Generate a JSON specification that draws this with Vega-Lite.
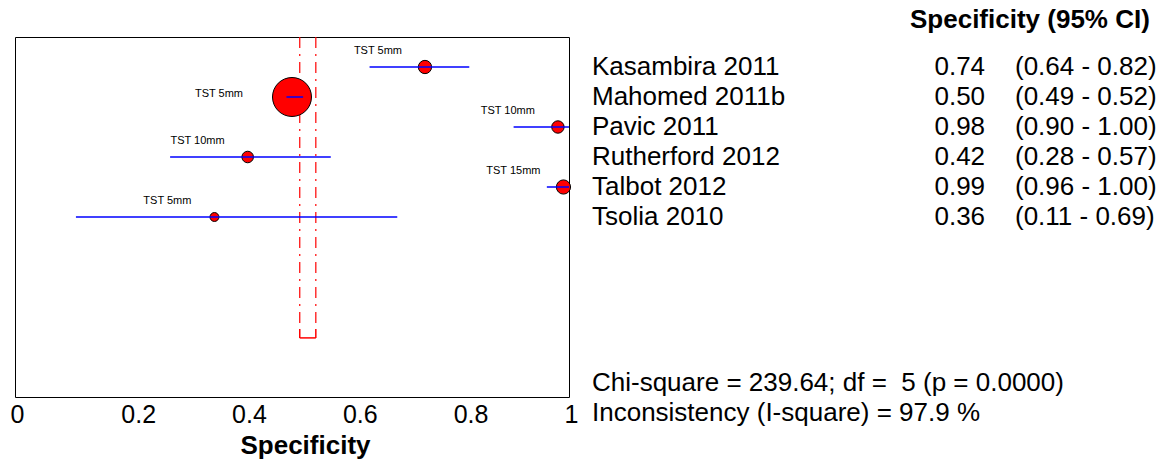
{
  "$schema": "https://vega.github.io/schema/vega-lite/v6.json",
  "width": 554,
  "height": 360,
  "autosize": {"type": "none"},
  "padding": {"left": 15, "top": 37, "right": 594, "bottom": 67},
  "background": "white",
  "config": {
    "view": {"stroke": "black", "strokeWidth": 1},
    "font": "Liberation Sans",
    "text": {"font": "Liberation Sans", "color": "black"}
  },
  "datasets": {
    "studies": [
      {"study": "Kasambira 2011", "spec": 0.74, "lo": 0.64, "hi": 0.82, "row": 1, "label": "TST 5mm", "weight": 7.8},
      {"study": "Mahomed 2011b", "spec": 0.50, "lo": 0.49, "hi": 0.52, "row": 2, "label": "TST 5mm", "weight": 67.1},
      {"study": "Pavic 2011", "spec": 0.98, "lo": 0.90, "hi": 1.00, "row": 3, "label": "TST 10mm", "weight": 6.8},
      {"study": "Rutherford 2012", "spec": 0.42, "lo": 0.28, "hi": 0.57, "row": 4, "label": "TST 10mm", "weight": 5.9},
      {"study": "Talbot 2012", "spec": 0.99, "lo": 0.96, "hi": 1.00, "row": 5, "label": "TST 15mm", "weight": 8.9},
      {"study": "Tsolia 2010", "spec": 0.36, "lo": 0.11, "hi": 0.69, "row": 6, "label": "TST 5mm", "weight": 3.5}
    ],
    "pooled": [
      {"lo": 0.514, "hi": 0.543, "top": 0, "bracket": 9.73, "bottom": 10.03}
    ],
    "stats": [
      {"text": "Chi-square = 239.64; df = \u00a05 (p = 0.0000)", "pos": 11.53},
      {"text": "Inconsistency (I-square) = 97.9 %", "pos": 12.53}
    ]
  },
  "encoding": {
    "y": {"type": "quantitative", "scale": {"domain": [0, 12], "reverse": true}, "axis": null}
  },
  "layer": [
    {
      "data": {"name": "pooled"},
      "mark": {"type": "rule", "color": "#ff0000", "strokeWidth": 1.2, "strokeDash": [11, 6, 2, 6]},
      "encoding": {
        "x": {"field": "lo", "type": "quantitative", "scale": {"domain": [0, 1]},
          "axis": {"values": [0, 0.2, 0.4, 0.6, 0.8, 1], "format": "~g", "title": "Specificity", "domain": false, "ticks": false, "grid": false, "labelFlush": false, "labelAlign": "left", "labelOffset": -5, "labelFontSize": 25, "labelColor": "black", "labelFont": "Liberation Sans", "labelPadding": 5, "titleFontSize": 26, "titleFont": "Liberation Sans", "titleFontWeight": "bold", "titleColor": "black", "titleX": 290, "titleY": 48, "titleBaseline": "middle", "titleAlign": "center"}},
        "y": {"field": "top"},
        "y2": {"field": "bracket"}
      }
    },
    {
      "data": {"name": "pooled"},
      "mark": {"type": "rule", "color": "#ff0000", "strokeWidth": 1.2, "strokeDash": [11, 6, 2, 6]},
      "encoding": {
        "x": {"field": "hi", "type": "quantitative"},
        "y": {"field": "top"},
        "y2": {"field": "bracket"}
      }
    },
    {
      "data": {"name": "pooled"},
      "mark": {"type": "rule", "color": "#ff0000", "strokeWidth": 1.5},
      "encoding": {
        "x": {"field": "lo", "type": "quantitative"},
        "y": {"field": "bracket"},
        "y2": {"field": "bottom"}
      }
    },
    {
      "data": {"name": "pooled"},
      "mark": {"type": "rule", "color": "#ff0000", "strokeWidth": 1.5},
      "encoding": {
        "x": {"field": "hi", "type": "quantitative"},
        "y": {"field": "bracket"},
        "y2": {"field": "bottom"}
      }
    },
    {
      "data": {"name": "pooled"},
      "mark": {"type": "rule", "color": "#ff0000", "strokeWidth": 1.5},
      "encoding": {
        "x": {"field": "lo", "type": "quantitative"},
        "x2": {"field": "hi"},
        "y": {"field": "bottom"}
      }
    },
    {
      "data": {"name": "studies"},
      "mark": {"type": "point", "shape": "circle", "filled": true, "fill": "#ff0000", "stroke": "black", "strokeWidth": 1, "opacity": 1},
      "encoding": {
        "x": {"field": "spec", "type": "quantitative"},
        "y": {"field": "row"},
        "size": {"field": "weight", "type": "quantitative", "scale": {"domain": [0, 67.1], "range": [0, 1520]}, "legend": null}
      }
    },
    {
      "data": {"name": "studies"},
      "mark": {"type": "rule", "color": "#0000ff", "strokeWidth": 1.5},
      "encoding": {
        "x": {"field": "lo", "type": "quantitative"},
        "x2": {"field": "hi"},
        "y": {"field": "row"}
      }
    },
    {
      "data": {"name": "studies"},
      "transform": [{"filter": "datum.study !== 'Mahomed 2011b'"}],
      "mark": {"type": "text", "align": "right", "baseline": "middle", "fontSize": 11, "dx": -23, "dy": -16},
      "encoding": {
        "x": {"field": "spec", "type": "quantitative"},
        "y": {"field": "row"},
        "text": {"field": "label"}
      }
    },
    {
      "data": {"name": "studies"},
      "transform": [{"filter": "datum.study === 'Mahomed 2011b'"}],
      "mark": {"type": "text", "align": "right", "baseline": "middle", "fontSize": 11, "dx": -49, "dy": -3},
      "encoding": {
        "x": {"field": "spec", "type": "quantitative"},
        "y": {"field": "row"},
        "text": {"field": "label"}
      }
    },
    {
      "data": {"name": "studies"},
      "mark": {"type": "text", "align": "left", "baseline": "middle", "fontSize": 26},
      "encoding": {
        "x": {"datum": 1.0415, "type": "quantitative"},
        "y": {"field": "row"},
        "text": {"field": "study"}
      }
    },
    {
      "data": {"name": "studies"},
      "mark": {"type": "text", "align": "right", "baseline": "middle", "fontSize": 26},
      "encoding": {
        "x": {"datum": 1.751, "type": "quantitative"},
        "y": {"field": "row"},
        "text": {"field": "spec", "format": ".2f"}
      }
    },
    {
      "data": {"name": "studies"},
      "transform": [{"calculate": "'(' + format(datum.lo, '.2f') + ' - ' + format(datum.hi, '.2f') + ')'", "as": "ci"}],
      "mark": {"type": "text", "align": "left", "baseline": "middle", "fontSize": 26},
      "encoding": {
        "x": {"datum": 1.805, "type": "quantitative"},
        "y": {"field": "row"},
        "text": {"field": "ci"}
      }
    },
    {
      "data": {"values": [{"t": "Specificity (95% CI)", "pos": -0.57}]},
      "mark": {"type": "text", "align": "left", "baseline": "middle", "fontSize": 26, "fontWeight": "bold"},
      "encoding": {
        "x": {"datum": 1.6155, "type": "quantitative"},
        "y": {"field": "pos"},
        "text": {"field": "t"}
      }
    },
    {
      "data": {"name": "stats"},
      "mark": {"type": "text", "align": "left", "baseline": "middle", "fontSize": 26},
      "encoding": {
        "x": {"datum": 1.0415, "type": "quantitative"},
        "y": {"field": "pos"},
        "text": {"field": "text"}
      }
    }
  ]
}
